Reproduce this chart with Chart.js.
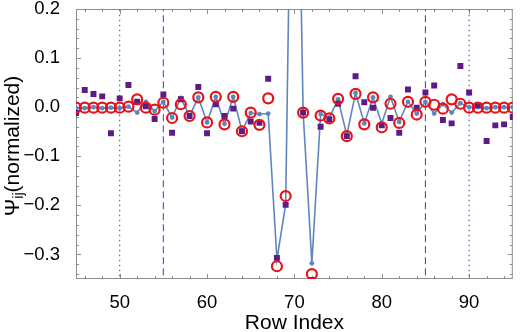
<!DOCTYPE html>
<html><head><meta charset="utf-8">
<script src="https://cdn.jsdelivr.net/npm/chart.js@4.4.1/dist/chart.umd.min.js"></script>
<style>html,body{margin:0;padding:0;background:#fff;}</style>
</head><body>
<canvas id="c" width="520" height="332"></canvas>
<script>
const rowIndex = [45,46,47,48,49,50,51,52,53,54,55,56,57,58,59,60,61,62,63,64,65,66,67,68,69,70,71,72,73,74,75,76,77,78,79,80,81,82,83,84,85,86,87,88,89,90,91,92,93,94,95];
const blueValues = [-0.002,-0.002,0.000,-0.002,-0.001,-0.002,0.001,-0.011,0.011,-0.008,0.011,-0.021,0.019,-0.018,0.020,-0.031,0.021,-0.034,0.021,-0.048,-0.012,-0.014,-0.013,-0.310,-0.198,1.000,-0.011,-0.318,-0.014,-0.021,0.016,-0.057,0.029,-0.033,0.020,-0.033,0.021,-0.030,0.011,-0.013,0.011,-0.013,0.006,-0.011,0.008,0.000,0.000,-0.002,0.000,0.000,0.000];
const purpleValues = [-0.012,0.035,0.027,0.022,-0.053,0.018,0.045,0.011,0.002,-0.024,0.026,-0.052,0.016,-0.018,0.041,-0.053,0.006,-0.018,-0.003,-0.049,-0.029,-0.032,0.058,-0.307,-0.199,1.000,-0.011,-0.352,-0.040,-0.025,0.007,-0.059,0.063,0.010,-0.001,-0.037,-0.022,-0.052,0.036,-0.001,0.030,0.044,-0.026,-0.033,0.084,0.030,0.004,-0.069,-0.037,-0.035,-0.020];
const redValues = [-0.001,-0.001,-0.001,-0.001,-0.001,-0.001,0.001,0.016,-0.001,-0.005,0.009,-0.022,0.006,-0.018,0.020,-0.031,0.021,-0.035,0.021,-0.049,-0.011,-0.036,0.018,-0.324,-0.181,1.000,-0.011,-0.340,-0.017,-0.023,0.017,-0.059,0.027,-0.035,0.020,-0.041,0.007,-0.032,0.011,-0.015,0.011,0.005,-0.003,0.016,0.007,-0.001,-0.001,-0.001,-0.001,-0.001,-0.001];
const xTicks = [50,60,70,80,90];
const yTicks = [-0.3,-0.2,-0.1,0,0.1,0.2];
const dottedLines = [50,90];
const dashedLines = [55,85];
const xTitle = 'Row Index';
const yTitleMain = 'Ψ';
const yTitleSub = 'ij';
const yTitleTail = '(normalized)';

const FONT = "'Liberation Sans', Arial, sans-serif";
const pts = vals => rowIndex.map((x,i)=>({x:x, y:vals[i]}));
const vline = x => [{x:x, y:-10},{x:x, y:10}];
const REF = '#4a4ad8';

const datasets = [
  {data: pts(redValues), showLine:false, pointStyle:'circle', pointRadius:5, pointHoverRadius:5,
   pointBorderWidth:2.2, pointBorderColor:'#e5141b', pointBackgroundColor:'rgba(0,0,0,0)', order:0},
  {data: pts(purpleValues), showLine:false, pointStyle:'rect', pointRadius:4.2, pointHoverRadius:4.2,
   pointBorderWidth:0, pointBorderColor:'#5c1c86', pointBackgroundColor:'#5c1c86', order:1},
  {data: pts(blueValues), showLine:true, borderColor:'#5f86ba', borderWidth:1.6, tension:0,
   pointRadius:2.4, pointHoverRadius:2.4, pointBackgroundColor:'#5f86ba', pointBorderWidth:0, order:2},
  ...dottedLines.map(x=>({data:vline(x), showLine:true, borderColor:REF, borderWidth:1.1, borderDash:[1.5,3.5], pointRadius:0, order:3})),
  ...dashedLines.map(x=>({data:vline(x), showLine:true, borderColor:REF, borderWidth:1.1, borderDash:[7,4], pointRadius:0, order:3}))
];

const framePlugin = {
  id:'frame',
  beforeDatasetsDraw(chart){
    const {ctx, chartArea:a, scales:{x,y}} = chart;
    ctx.save();
    ctx.strokeStyle = '#8e8e8e'; ctx.lineWidth = 1;
    ctx.strokeRect(a.left+0.5, a.top+0.5, a.right-a.left-1, a.bottom-a.top-1);
    ctx.beginPath();
    for (let v = Math.ceil(x.min/2)*2; v <= x.max; v += 2) {
      const px = Math.round(x.getPixelForValue(v))+0.5;
      const len = v%10===0 ? 5 : 3;
      ctx.moveTo(px, a.bottom); ctx.lineTo(px, a.bottom-len);
      ctx.moveTo(px, a.top); ctx.lineTo(px, a.top+len);
    }
    for (let k = Math.ceil(y.min/0.02-1e-6); k*0.02 <= y.max+1e-9; k++) {
      const py = Math.round(y.getPixelForValue(k*0.02))+0.5;
      const len = k%5===0 ? 5 : 3;
      ctx.moveTo(a.left, py); ctx.lineTo(a.left+len, py);
      ctx.moveTo(a.right, py); ctx.lineTo(a.right-len, py);
    }
    ctx.stroke();
    ctx.restore();
  },
  afterDraw(chart){
    const {ctx, chartArea:a} = chart;
    ctx.save();
    const cy = (a.top+a.bottom)/2 + 2;
    ctx.translate(11, cy);
    ctx.rotate(-Math.PI/2);
    ctx.fillStyle = '#000';
    ctx.textBaseline = 'alphabetic';
    ctx.textAlign = 'left';
    const big = '21px ' + FONT, small = '14px ' + FONT;
    ctx.font = big; const w1 = ctx.measureText(yTitleMain).width; const w3 = ctx.measureText(yTitleTail).width;
    ctx.font = small; const w2 = ctx.measureText(yTitleSub).width;
    let sx = -(w1+w2+w3)/2;
    const base = 7.5;
    ctx.font = big; ctx.fillText(yTitleMain, sx, base); sx += w1;
    ctx.font = small; ctx.fillText(yTitleSub, sx, base+4.5); sx += w2;
    ctx.font = big; ctx.fillText(yTitleTail, sx, base);
    ctx.restore();
  }
};

const fmtY = v => { const r = Math.round(v*10)/10; return (r<0?'\u2212':'') + Math.abs(r).toFixed(1); };

new Chart(document.getElementById('c'), {
  type:'scatter',
  data:{datasets:datasets},
  options:{
    responsive:false, animation:false, devicePixelRatio:1,
    layout:{padding:{left:0,right:6,top:9,bottom:0}},
    plugins:{legend:{display:false}, tooltip:{enabled:false}},
    scales:{
      x:{type:'linear', min:45, max:95,
        grid:{display:false}, border:{display:false},
        afterBuildTicks: s => { s.ticks = xTicks.map(v=>({value:v})); },
        ticks:{font:{family:FONT, size:18.5}, color:'#000', padding:5, maxRotation:0, autoSkip:false, callback: v => String(v)},
        title:{display:true, text:xTitle, color:'#000', font:{family:FONT, size:21, lineHeight:1}, padding:{top:0,bottom:-1.5}},
        afterFit: s => { s.height = 53; s.paddingLeft = 0; s.paddingRight = 0; }
      },
      y:{type:'linear', min:-0.35, max:0.2,
        grid:{display:false}, border:{display:false},
        afterBuildTicks: s => { s.ticks = yTicks.map(v=>({value:v})); },
        ticks:{font:{family:FONT, size:18.5}, color:'#000', padding:8, autoSkip:false, callback: fmtY},
        afterFit: s => { s.width = 76; s.paddingTop = 0; s.paddingBottom = 0; }
      }
    }
  },
  plugins:[framePlugin]
});
</script>
</body></html>
